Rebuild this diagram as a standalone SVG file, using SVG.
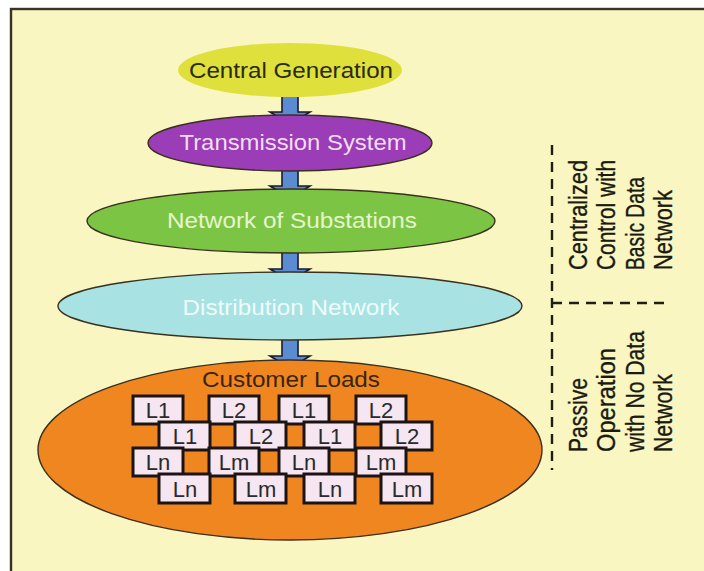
<svg xmlns="http://www.w3.org/2000/svg" width="704" height="571" viewBox="0 0 704 571">
<style>
.lbl{font-family:"Liberation Sans",Arial,sans-serif;font-size:22px;text-anchor:middle}
.side{font-family:"Liberation Sans",Arial,sans-serif;font-size:22px;fill:#1a1a10;stroke:#1a1a10;stroke-width:0.3}
.box rect{fill:#f5e6f2;stroke:#1c1414;stroke-width:3}
.box text{font-family:"Liberation Sans",Arial,sans-serif;font-size:22px;fill:#2a2a2a;text-anchor:middle}
.ell{stroke:#3a3020;stroke-width:1.4}
.arrow{fill:#5b8bd0;stroke:#1a1a30;stroke-width:1.6;stroke-linejoin:miter}
.dash{stroke:#1e1e14;stroke-width:2.4;stroke-dasharray:10 7;fill:none}
</style>
<rect x="0" y="0" width="704" height="571" fill="#ffffff"/>
<rect x="11" y="9" width="710" height="580" fill="#f9f6c2" stroke="#3a3224" stroke-width="2.4"/>

<g id="connectors">
<polygon class="arrow" points="282,94 282,112 270,112 290,124 310,112 298,112 298,94"/>
<polygon class="arrow" points="282,168 282,186 270,186 290,198 310,186 298,186 298,168"/>
<polygon class="arrow" points="282,251 282,269 270,269 290,281 310,269 298,269 298,251"/>
<polygon class="arrow" points="282,338 282,356 270,356 290,368 310,356 298,356 298,338"/>
</g>

<g id="central-generation">
<ellipse cx="290" cy="70" rx="112" ry="27" fill="#dfe03c"/>
<text class="lbl" x="291" y="78" textLength="204" lengthAdjust="spacingAndGlyphs" fill="#2a2a10">Central Generation</text>
</g>
<g id="transmission-system">
<ellipse class="ell" cx="290" cy="143" rx="142" ry="28" fill="#9b3db6"/>
<text class="lbl" x="293" y="150" textLength="227" lengthAdjust="spacingAndGlyphs" fill="#f3dcf5">Transmission System</text>
</g>
<g id="network-of-substations">
<ellipse class="ell" cx="291" cy="221" rx="204" ry="32" fill="#7cc443"/>
<text class="lbl" x="292" y="228" textLength="250" lengthAdjust="spacingAndGlyphs" fill="#e6f6cc">Network of Substations</text>
</g>
<g id="distribution-network">
<ellipse class="ell" cx="290" cy="306" rx="232" ry="34" fill="#a8e2e2"/>
<text class="lbl" x="291" y="315" textLength="217" lengthAdjust="spacingAndGlyphs" fill="#eefcfc">Distribution Network</text>
</g>
<g id="customer-loads">
<ellipse class="ell" cx="290" cy="450" rx="252" ry="90" fill="#f0861f"/>
<text class="lbl" x="291" y="387" textLength="178" lengthAdjust="spacingAndGlyphs" fill="#3a2410">Customer Loads</text>
</g>

<g id="loads" class="box">
<g id="r1c1"><rect x="133" y="396" width="50" height="28"/><text x="158" y="418">L1</text></g>
<g id="r1c2"><rect x="209" y="396" width="50" height="28"/><text x="234" y="418">L2</text></g>
<g id="r1c3"><rect x="279" y="396" width="50" height="28"/><text x="304" y="418">L1</text></g>
<g id="r1c4"><rect x="356" y="396" width="50" height="28"/><text x="381" y="418">L2</text></g>
<g id="r2c1"><rect x="159" y="422" width="51" height="28"/><text x="185" y="444">L1</text></g>
<g id="r2c2"><rect x="235" y="422" width="51" height="28"/><text x="261" y="444">L2</text></g>
<g id="r2c3"><rect x="304" y="422" width="51" height="28"/><text x="330" y="444">L1</text></g>
<g id="r2c4"><rect x="381" y="422" width="51" height="28"/><text x="407" y="444">L2</text></g>
<g id="r3c1"><rect x="133" y="448" width="50" height="28"/><text x="158" y="470">Ln</text></g>
<g id="r3c2"><rect x="209" y="448" width="50" height="28"/><text x="234" y="470">Lm</text></g>
<g id="r3c3"><rect x="279" y="448" width="50" height="28"/><text x="304" y="470">Ln</text></g>
<g id="r3c4"><rect x="356" y="448" width="50" height="28"/><text x="381" y="470">Lm</text></g>
<g id="r4c1"><rect x="159" y="474" width="51" height="29"/><text x="185" y="497">Ln</text></g>
<g id="r4c2"><rect x="235" y="474" width="51" height="29"/><text x="261" y="497">Lm</text></g>
<g id="r4c3"><rect x="304" y="474" width="51" height="29"/><text x="330" y="497">Ln</text></g>
<g id="r4c4"><rect x="381" y="474" width="51" height="29"/><text x="407" y="497">Lm</text></g>
</g>

<g id="dividers">
<line class="dash" x1="552" y1="145" x2="552" y2="470"/>
<line class="dash" x1="552" y1="303" x2="665" y2="303"/>
</g>

<g id="label-centralized">
<text class="side" transform="translate(587,270) rotate(-90) scale(1,1.15)" textLength="110" lengthAdjust="spacingAndGlyphs">Centralized</text>
<text class="side" transform="translate(615,270) rotate(-90) scale(1,1.15)" textLength="110" lengthAdjust="spacingAndGlyphs">Control with</text>
<text class="side" transform="translate(644,270) rotate(-90) scale(1,1.15)" textLength="93" lengthAdjust="spacingAndGlyphs">Basic Data</text>
<text class="side" transform="translate(672,270) rotate(-90) scale(1,1.15)" textLength="80" lengthAdjust="spacingAndGlyphs">Network</text>
</g>
<g id="label-passive">
<text class="side" transform="translate(587,452) rotate(-90) scale(1,1.15)" textLength="74" lengthAdjust="spacingAndGlyphs">Passive</text>
<text class="side" transform="translate(615,452) rotate(-90) scale(1,1.15)" textLength="104" lengthAdjust="spacingAndGlyphs">Operation</text>
<text class="side" transform="translate(644,452) rotate(-90) scale(1,1.15)" textLength="121" lengthAdjust="spacingAndGlyphs">with No Data</text>
<text class="side" transform="translate(672,452) rotate(-90) scale(1,1.15)" textLength="78" lengthAdjust="spacingAndGlyphs">Network</text>
</g>
</svg>
